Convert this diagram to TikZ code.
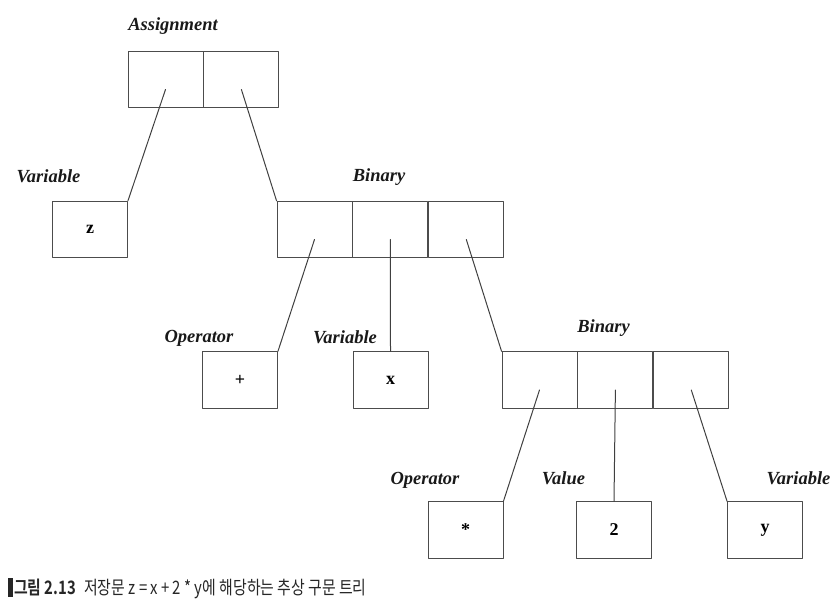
\documentclass[tikz,border=0pt]{standalone}
\usepackage{fontspec}
\setmainfont{Liberation Serif}
\newfontfamily\kr[FakeStretch=0.805,BoldFont={Noto Sans CJK KR Bold}]{Noto Sans CJK KR}
\usetikzlibrary{positioning}
\tikzset{cell/.style={draw=black!70,line width=0.9pt,minimum width=75pt,
		minimum height=56.5pt,inner sep=0pt,font=\fontsize{18}{20}\selectfont\bfseries},
	lbl/.style={anchor=base,inner sep=0pt,text=black!90,
		font=\fontsize{18.5}{20}\selectfont\bfseries\itshape},
	link/.style={draw=black!75,line width=1pt}}
\begin{document}
\begin{tikzpicture}[x=1pt,y=-1pt,line
				join=round,line
				cap=round,node distance=0pt]
				\useasboundingbox (0,0) rectangle (838,612);
				% boxes
				\node[cell] (a1) at (165.5,79.5) {};
				\node[cell,right=of a1] (a2) {};
				\node[cell] (z) at (90,229.5) {z};
				\node[cell] (b1) at (314.5,229.5) {};
				\node[cell,right=of b1] (b2) {};
				\node[cell,right=of b2] (b3) {};
				\node[cell] (plus) at (240,380) {+};
				\node[cell] (x) at (390.5,380) {x};
				\node[cell] (c1) at (539.5,380) {};
				\node[cell,right=of c1] (c2) {};
				\node[cell,right=of c2] (c3) {};
				\node[cell] (times) at (465.5,530) {*};
				\node[cell] (two) at (614,530) {2};
				\node[cell] (y) at (765,530) {y};
				% labels
				\node[lbl] (la) at (173,31) {Assignment};
				\node[lbl] (lz) at (48.5,183) {Variable};
				\node[lbl] (lb1) at (379,182) {Binary};
				\node[lbl] (lplus) at (199,342) {Operator};
				\node[lbl] (lx) at (345,343) {Variable};
				\node[lbl] (lb2) at (603.5,332) {Binary};
				\node[lbl] (ltimes) at (425,484) {Operator};
				\node[lbl] (ltwo) at (563.5,484) {Value};
				\node[lbl] (ly) at (798.5,484) {Variable};
				% links
				\draw[link] ([yshift=-10pt]a1.center)--(z.north east);
				\draw[link] ([yshift=-10pt]a2.center)--(b1.north west);
				\draw[link] ([yshift=-10pt]b1.center)--(plus.north east);
				\draw[link] ([yshift=-10pt]b2.center)--(x.north);
				\draw[link] ([yshift=-10pt]b3.center)--(c1.north west);
				\draw[link] ([yshift=-10pt]c1.center)--(times.north east);
				\draw[link] ([yshift=-10pt]c2.center)--(two.north);
				\draw[link] ([yshift=-10pt]c3.center)--(y.north west);
				% caption
				\fill[black!85] (8,578) rectangle (12.5,597);
				\node[anchor=base west,inner sep=0pt,text=black!85,font=\kr\fontsize{18.5}{20}\selectfont]
				(cap) at (14,594) {\textbf{그림 2.13}\hspace{8pt}저장문 z = x + 2 * y에 해당하는 추상 구문 트리};
			\end{tikzpicture}
\end{document}
